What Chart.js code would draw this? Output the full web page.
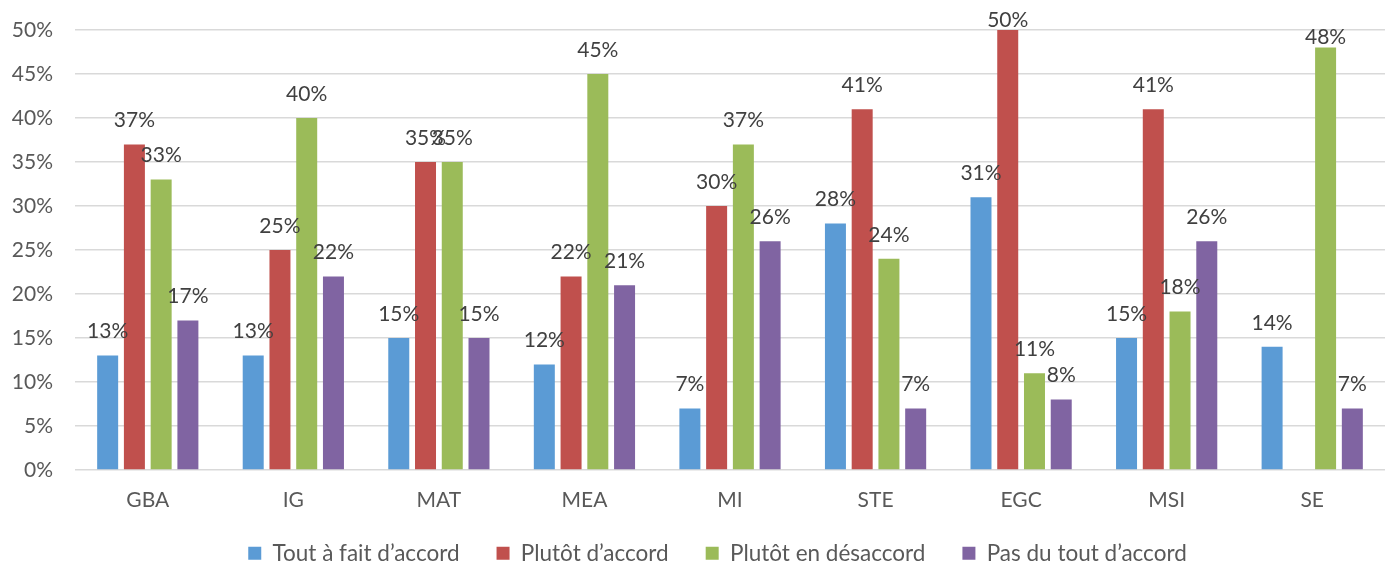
<!DOCTYPE html>
<html>
<head>
<meta charset="utf-8">
<script src="https://cdn.jsdelivr.net/npm/chart.js@4"></script>
<style>
html,body{margin:0;padding:0;background:#fff;}
#wrap{width:1392px;height:563px;}
</style>
</head>
<body>
<div id="wrap"><canvas id="c" width="1392" height="563"></canvas></div>
<script>
const categories = ["GBA","IG","MAT","MEA","MI","STE","EGC","MSI","SE"];
const seriesNames = ["Tout à fait d’accord","Plutôt d’accord","Plutôt en désaccord","Pas du tout d’accord"];
const toutAFait = [13,13,15,12,7,28,31,15,14];
const plutotAccord = [37,25,35,22,30,41,50,41,null];
const plutotDesaccord = [33,40,35,45,37,24,11,18,48];
const pasDuTout = [17,22,15,21,26,7,8,26,7];
const yTicks = [0,5,10,15,20,25,30,35,40,45,50];
const colors = ["#5B9BD5","#C0504D","#9BBB59","#8064A2"];

const FONT = "Lato, 'Open Sans', sans-serif";

const labelPlugin = {
  id: 'barLabels',
  afterDatasetsDraw(chart) {
    const ctx = chart.ctx;
    const top = chart.chartArea.top;
    ctx.save();
    ctx.font = "21px " + FONT;
    ctx.fillStyle = "#404040";
    ctx.textAlign = "center";
    ctx.textBaseline = "middle";
    chart.data.datasets.forEach((ds, i) => {
      const meta = chart.getDatasetMeta(i);
      meta.data.forEach((bar, j) => {
        const v = ds.data[j];
        if (v === null || v === undefined) return;
        let y = bar.y - 24;
        if (y - 10 < top) y = bar.y - 10;
        ctx.fillText(v + "%", bar.x, y);
      });
    });
    ctx.restore();
  }
};

const legendFitPlugin = {
  id: 'legendFit',
  beforeLayout(chart) {
    const lg = chart.legend;
    if (lg && !lg._patched) {
      const orig = lg.fit;
      lg.fit = function() { orig.call(this); this.height = 50; };
      lg._patched = true;
    }
  },
  afterLayout(chart) {
    const lg = chart.legend;
    if (lg) { lg.top = 505; lg.bottom = 563; lg.left += 25; lg.right += 25; }
  }
};

const datasets = [toutAFait, plutotAccord, plutotDesaccord, pasDuTout].map((d, i) => ({
  label: seriesNames[i],
  data: d,
  backgroundColor: colors[i],
  borderWidth: 0,
  categoryPercentage: 0.735,
  barPercentage: 0.785
}));

new Chart(document.getElementById('c'), {
  type: 'bar',
  data: { labels: categories, datasets },
  options: {
    responsive: false,
    animation: false,
    devicePixelRatio: 1,
    layout: { padding: { top: 30, right: 7, left: 0, bottom: 0 } },
    plugins: {
      tooltip: { enabled: false },
      legend: {
        position: 'bottom',
        labels: {
          font: { family: FONT, size: 22.5 },
          color: "#595959",
          boxWidth: 13,
          boxHeight: 13,
          padding: 37
        }
      }
    },
    scales: {
      x: {
        grid: { display: false, drawTicks: false },
        border: { display: false },
        afterFit(scale) { scale.height = 43; },
        ticks: { font: { family: FONT, size: 21 }, color: "#595959", padding: 18 }
      },
      y: {
        min: 0, max: 50,
        afterBuildTicks(scale) { scale.ticks = yTicks.map(v => ({ value: v })); },
        afterFit(scale) { scale.width = 75; scale.paddingTop = 0; scale.paddingBottom = 0; },
        grid: { color: "#D9D9D9", lineWidth: 1.5, drawTicks: false },
        border: { display: false },
        ticks: {
          font: { family: FONT, size: 21 }, color: "#595959", padding: 22,
          callback: v => v + "%"
        }
      }
    }
  },
  plugins: [labelPlugin, legendFitPlugin]
});
</script>
</body>
</html>
